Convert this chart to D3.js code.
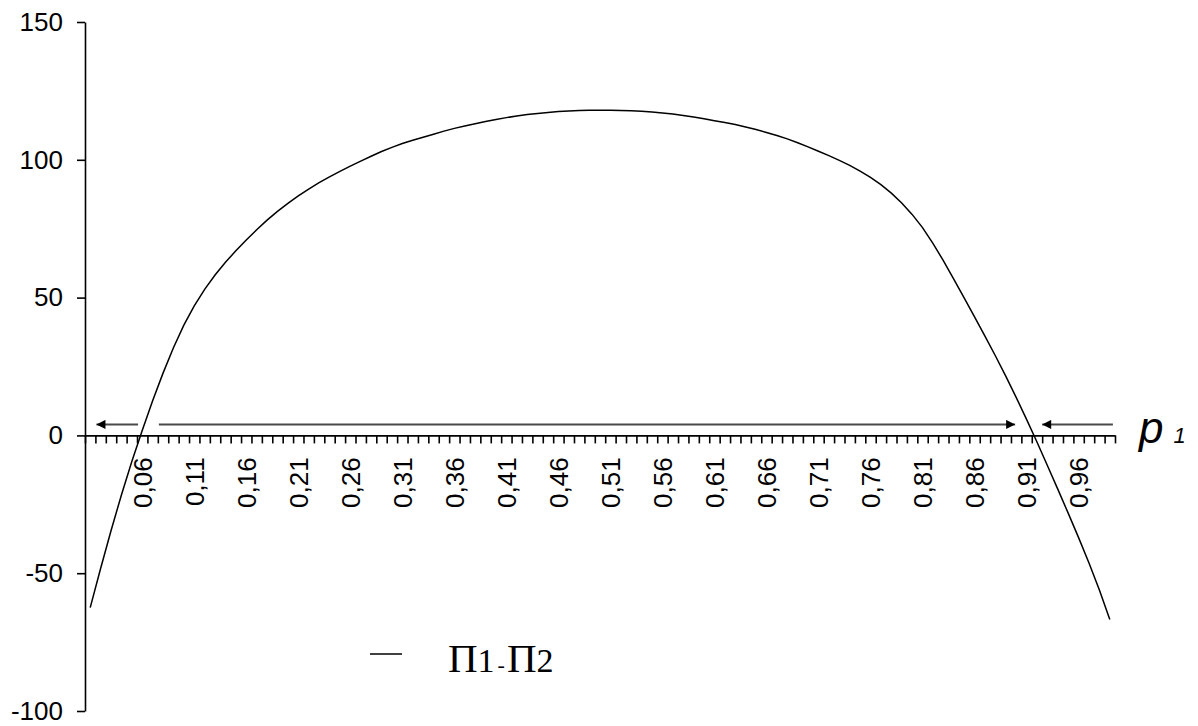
<!DOCTYPE html>
<html>
<head>
<meta charset="utf-8">
<script src="https://cdn.jsdelivr.net/npm/d3@7"></script>
<style>
  body { margin: 0; background: #fff; }
  svg { display: block; }
</style>
</head>
<body>
<div id="chart"></div>
<script>
// p1 categories 0,01 ... 0,99
const categories = d3.range(1, 100).map(i => i / 100);

// П1 - П2, one value per category
const diffValues = [
  -62.5, -48.3, -34.6, -21.6, -9.5, 1.8, 12.6, 22.6, 31.8, 40.0,
  47.0, 53.0, 58.2, 62.8, 67.0, 70.9, 74.6, 78.1, 81.3, 84.2,
  86.9, 89.4, 91.7, 93.8, 95.8, 97.7, 99.5, 101.3, 103.0, 104.5,
  105.9, 107.1, 108.2, 109.3, 110.4, 111.4, 112.3, 113.1, 113.9, 114.6,
  115.3, 115.9, 116.4, 116.8, 117.2, 117.5, 117.7, 117.9, 118.0, 118.0,
  118.0, 117.9, 117.8, 117.6, 117.3, 117.0, 116.6, 116.1, 115.5, 114.9,
  114.2, 113.5, 112.8, 111.9, 111.0, 109.9, 108.8, 107.6, 106.2, 104.7,
  103.1, 101.5, 99.8, 98.0, 95.9, 93.6, 91.0, 87.9, 84.3, 80.2,
  75.4, 69.7, 63.4, 56.7, 49.9, 43.0, 36.0, 28.9, 21.5, 13.8,
  5.8, -2.4, -10.9, -19.5, -28.2, -37.1, -46.3, -56.1, -66.8
];

const xTickLabels = [0.06, 0.11, 0.16, 0.21, 0.26, 0.31, 0.36, 0.41, 0.46,
  0.51, 0.56, 0.61, 0.66, 0.71, 0.76, 0.81, 0.86, 0.91, 0.96];
const yTicks = [150, 100, 50, 0, -50, -100];

// arrows above the axis: [from p, to p] at a small height
const arrows = [[0.056, 0.016], [0.076, 0.899], [0.993, 0.925]];
const arrowLevel = 4;

const width = 1198, height = 726;
const margin = { left: 85, right: 1115, top: 22, bottom: 711 };

const svg = d3.select("#chart").append("svg")
  .attr("width", width)
  .attr("height", height);

const x = d3.scaleBand()
  .domain(categories)
  .range([margin.left, margin.right])
  .padding(0);

const y = d3.scaleLinear()
  .domain([-100, 150])
  .range([margin.bottom, margin.top]);

// continuous p position through category centres
const xp = d3.scaleLinear()
  .domain([categories[0], categories[categories.length - 1]])
  .range([x(categories[0]) + x.bandwidth() / 2,
          x(categories[categories.length - 1]) + x.bandwidth() / 2]);

const fmt = d => d3.format(".2f")(d).replace(".", ",");

// Y axis
const yAxis = svg.append("g")
  .attr("transform", `translate(${margin.left},0)`)
  .call(d3.axisLeft(y)
    .tickValues(yTicks)
    .tickSize(8)
    .tickSizeOuter(0)
    .tickPadding(14)
    .tickFormat(d => String(d)));

yAxis.selectAll("text")
  .style("font-family", "Arial, 'Liberation Sans', sans-serif")
  .style("font-size", "26px")
  .attr("fill", "#000");
yAxis.selectAll("path, line").attr("stroke", "#000").attr("stroke-width", 1.6);

// X axis: small ticks at category boundaries
const xEdge = d3.scaleLinear().domain([0, categories.length]).range([margin.left, margin.right]);
const xTicksG = svg.append("g")
  .attr("transform", `translate(0,${y(0)})`)
  .call(d3.axisBottom(xEdge)
    .tickValues(d3.range(0, categories.length + 1))
    .tickSize(8)
    .tickSizeOuter(0)
    .tickFormat(""));
xTicksG.selectAll("path, line").attr("stroke", "#000").attr("stroke-width", 1.6);

// X labels, rotated
const xLab = svg.append("g")
  .attr("transform", `translate(0,${y(0)})`)
  .call(d3.axisBottom(x)
    .tickValues(xTickLabels)
    .tickSize(0)
    .tickFormat(fmt));
xLab.select(".domain").remove();
xLab.selectAll("text")
  .attr("transform", "rotate(-90)")
  .attr("x", -22)
  .attr("y", 0)
  .attr("dy", "0.36em")
  .style("text-anchor", "end")
  .style("font-family", "Arial, 'Liberation Sans', sans-serif")
  .style("font-size", "26px")
  .attr("fill", "#000");

// arrow head marker
svg.append("defs").append("marker")
  .attr("id", "head")
  .attr("viewBox", "0 0 10 10")
  .attr("refX", 10)
  .attr("refY", 5)
  .attr("markerWidth", 10)
  .attr("markerHeight", 9)
  .attr("markerUnits", "userSpaceOnUse")
  .attr("orient", "auto")
  .append("path")
  .attr("d", "M0,0L10,5L0,10Z")
  .attr("fill", "#000");

svg.selectAll(".arrow")
  .data(arrows)
  .enter().append("line")
  .attr("class", "arrow")
  .attr("x1", d => xp(d[0]))
  .attr("x2", d => xp(d[1]))
  .attr("y1", y(arrowLevel))
  .attr("y2", y(arrowLevel))
  .attr("stroke", "#4a4a4a")
  .attr("stroke-width", 2)
  .attr("marker-end", "url(#head)");

// the curve
const line = d3.line()
  .x((d, i) => x(categories[i]) + x.bandwidth() / 2)
  .y(d => y(d));

svg.append("path")
  .datum(diffValues)
  .attr("d", line)
  .attr("fill", "none")
  .attr("stroke", "#000")
  .attr("stroke-width", 1.5);

// axis name p1
const pLab = svg.append("text")
  .attr("x", 1139)
  .attr("y", 443)
  .style("font-family", "Arial, 'Liberation Sans', sans-serif")
  .style("font-style", "italic")
  .attr("fill", "#000");
pLab.append("tspan").style("font-size", "44px").text("p");
pLab.append("tspan").attr("dx", 10).style("font-size", "22px").text("1");

// legend
svg.append("line")
  .attr("x1", 370).attr("x2", 402)
  .attr("y1", 654).attr("y2", 654)
  .attr("stroke", "#000")
  .attr("stroke-width", 1.5);

const leg = svg.append("text")
  .attr("x", 448)
  .attr("y", 672)
  .style("font-family", "'Liberation Serif', 'Times New Roman', serif")
  .attr("fill", "#000");
leg.append("tspan").style("font-size", "41px").text("П");
leg.append("tspan").style("font-size", "34px").text("1");
leg.append("tspan").attr("dx", 3).style("font-size", "22px").text("-");
leg.append("tspan").attr("dx", 2).style("font-size", "41px").text("П");
leg.append("tspan").style("font-size", "34px").text("2");
</script>
</body>
</html>
